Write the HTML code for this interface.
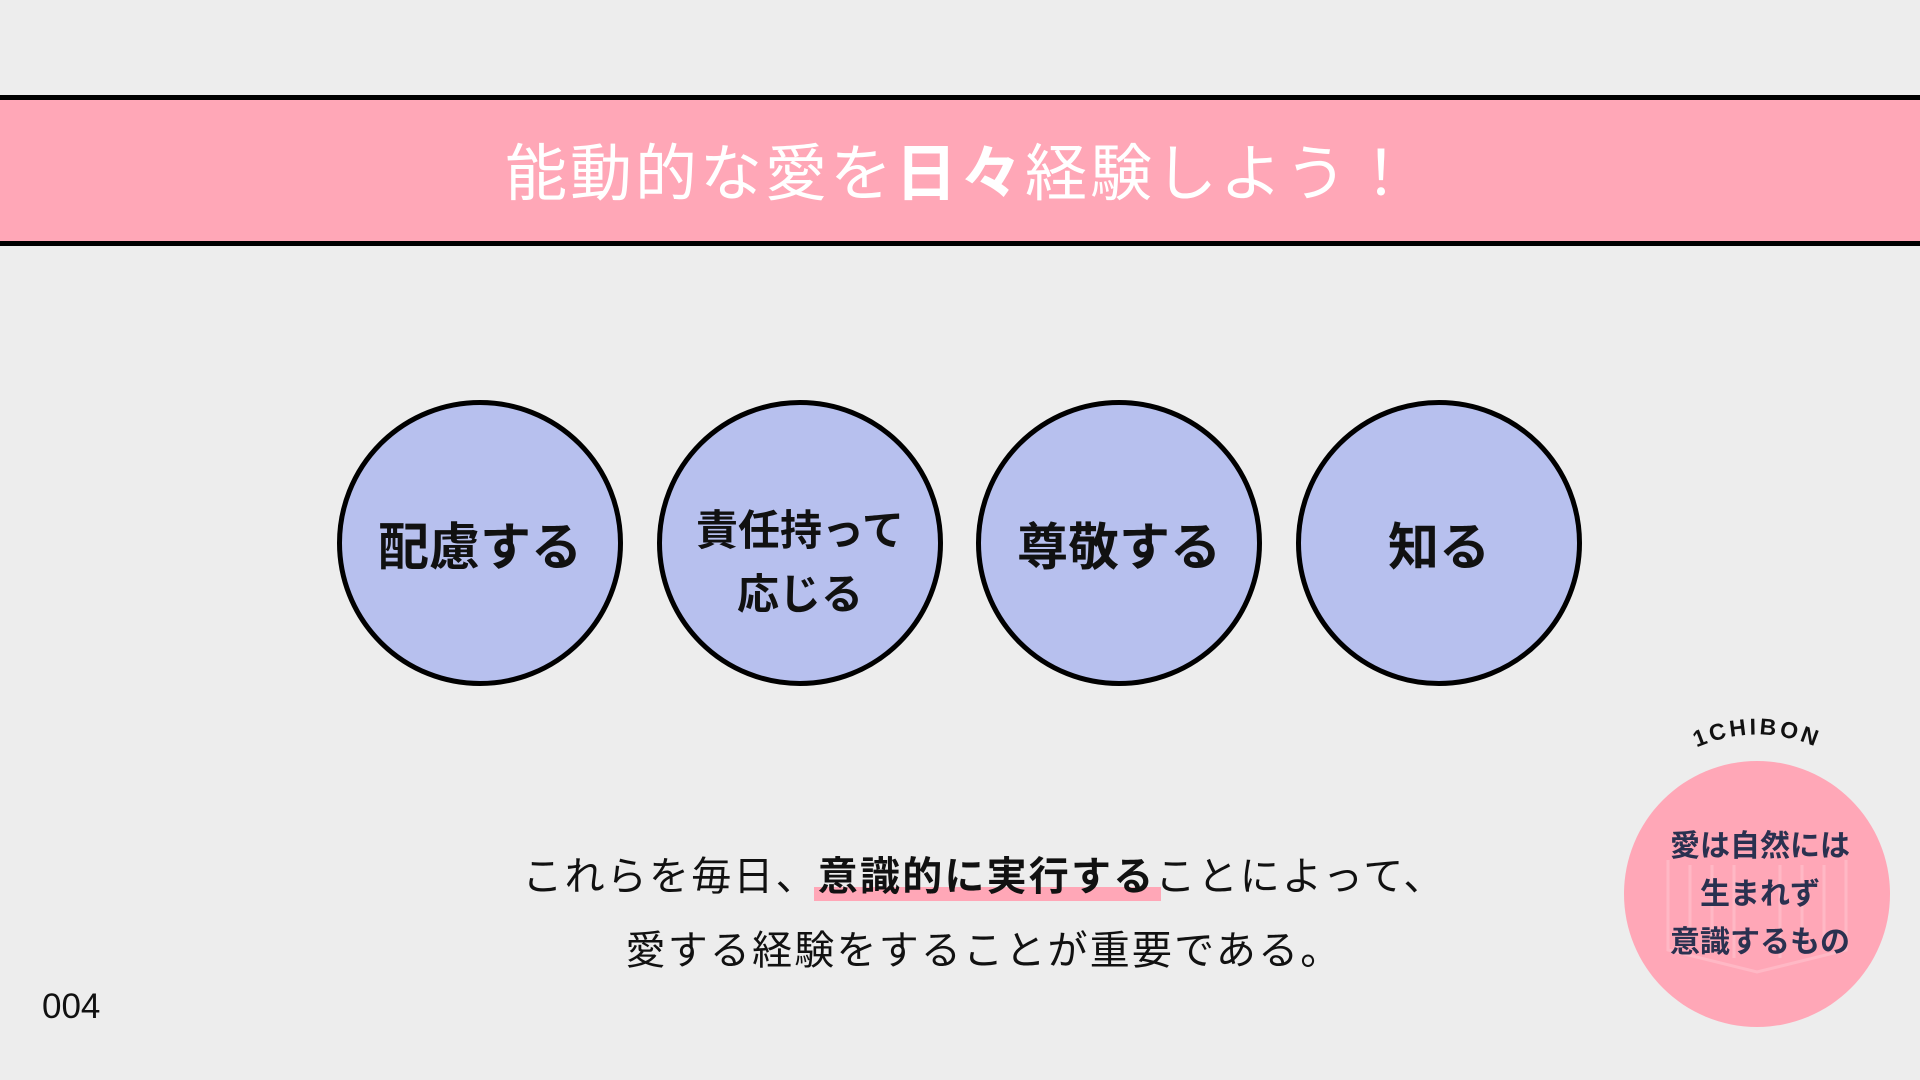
<!DOCTYPE html>
<html><head><meta charset="utf-8"><style>
body{margin:0;width:1920px;height:1080px;background:#ededed;position:relative;overflow:hidden;font-family:"Liberation Sans","Noto Sans CJK JP",sans-serif;}
.banner{position:absolute;left:0;top:95px;width:1920px;height:141px;background:#ffa7b7;border-top:5px solid #000;border-bottom:5px solid #000;}
.banner div{position:absolute;left:0;right:0;top:4px;height:141px;line-height:141px;text-align:center;color:#fff;font-size:62px;letter-spacing:3px;}
.c{position:absolute;width:276px;height:276px;border-radius:50%;background:#b7c0ee;border:5px solid #000;top:400px;display:flex;align-items:center;justify-content:center;text-align:center;font-weight:bold;color:#111;}
.t{position:absolute;left:24px;width:1920px;text-align:center;font-size:40px;color:#111;letter-spacing:2.2px;}
.hl{position:relative;font-weight:bold;}
.hl:before{content:"";position:absolute;left:-4px;right:-6px;bottom:-2px;height:14px;background:#ffa7b7;z-index:-1;}
</style></head><body>
<div class="banner"><div>能動的な愛を<b>日々</b>経験しよう！</div></div>
<div class="c" style="left:337px;font-size:51px;">配慮する</div>
<div class="c" style="left:657px;font-size:42px;line-height:64px;"><div style="margin-top:40px">責任持って<br>応じる</div></div>
<div class="c" style="left:976px;font-size:51px;">尊敬する</div>
<div class="c" style="left:1296px;font-size:51px;">知る</div>
<div class="t" style="top:844px;">これらを毎日、<span class="hl">意識的に実行する</span>ことによって、</div>
<div class="t" style="top:918px;">愛する経験をすることが重要である。</div>
<div style="position:absolute;left:42px;top:987px;font-size:35px;color:#111;">004</div>
<svg style="position:absolute;left:1600px;top:700px" width="320" height="340">
<circle cx="157" cy="194" r="133" fill="#ffa7b7"/>
<g stroke="#ffc0cc" stroke-width="3" fill="none" opacity="0.7">
<path d="M68 160 L68 250 L157 272 L246 250 L246 160"/>
<path d="M90 165 V245 M112 165 V250 M134 165 V258 M180 165 V258 M202 165 V250 M224 165 V245"/>
</g>
<defs><path id="arc" d="M87 52 Q157 17 227 52"/></defs>
<text font-family="Liberation Sans,sans-serif" font-size="23" font-weight="bold" fill="#111" letter-spacing="3"><textPath href="#arc" startOffset="50%" text-anchor="middle">1CHIBON</textPath></text>
<g font-family="Liberation Sans,Noto Sans CJK JP,sans-serif" font-size="30" font-weight="bold" fill="#2a3150" text-anchor="middle">
<text x="160" y="156">愛は自然には</text>
<text x="160" y="204">生まれず</text>
<text x="160" y="252">意識するもの</text>
</g>
</svg>
</body></html>
